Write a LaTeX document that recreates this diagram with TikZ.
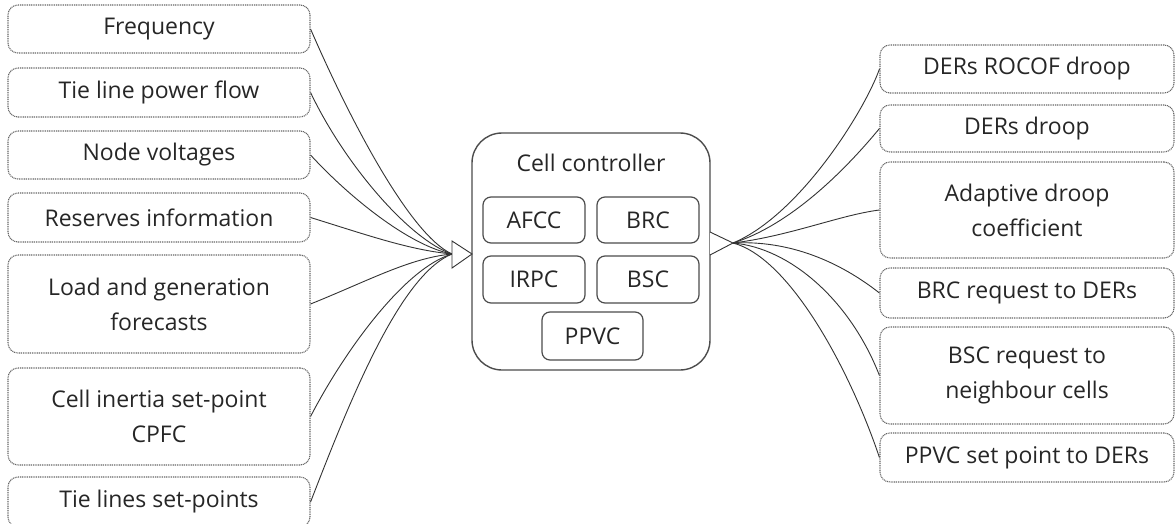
\documentclass[tikz,border=0pt]{standalone}
\usepackage{fontspec}
\setmainfont{Open Sans}
\begin{document}
\begin{tikzpicture}[x=1pt,y=-1pt,
  every node/.style={font=\fontsize{23}{35}\selectfont, text=black!85, align=center, inner sep=0pt},
  infobox/.style={draw=black!60, line width=1.1pt, dash pattern=on 1pt off 0.8pt,
                  rounded corners=10pt, minimum width=#1},
  leftbox/.style={infobox=302pt},
  rightbox/.style={infobox=294pt},
  ctrlbox/.style={draw=black!70, line width=1.4pt, rounded corners=30pt,
                  minimum width=238pt, minimum height=237pt},
  unitbox/.style={draw=black!70, line width=1.2pt, rounded corners=8pt,
                  minimum width=102pt, minimum height=46pt},
  link/.style={draw=black!80, line width=0.9pt},
  tip/.style={draw=black!80, line width=0.9pt, fill=white}
]
\useasboundingbox (0,0) rectangle (1176,524);

% inputs
\node[leftbox, minimum height=48pt] (freq)    at (159,29)    {Frequency};
\node[leftbox, minimum height=49pt] (tiepf)   at (159,92.5)  {Tie line power flow};
\node[leftbox, minimum height=48pt] (nodev)   at (159,155)   {Node voltages};
\node[leftbox, minimum height=49pt] (resv)    at (159,217.5) {Reserves information};
\node[leftbox, minimum height=98pt] (fcst)    at (159,304)   {Load and generation\\forecasts};
\node[leftbox, minimum height=97pt] (inert)   at (159,416.5) {Cell inertia set-point\\CPFC};
\node[leftbox, minimum height=50pt] (tieset)  at (159,502)   {Tie lines set-points};

% controller
\node[ctrlbox] (cell) at (591,251.5) {};
\node (celltitle) at (591,163) {Cell controller};
\node[unitbox] (afcc) at (534,220)   {AFCC};
\node[unitbox] (brc)  at (648,220)   {BRC};
\node[unitbox, minimum height=47pt] (irpc) at (534,279.5) {IRPC};
\node[unitbox, minimum height=47pt] (bsc)  at (648,279.5) {BSC};
\node[unitbox, minimum width=101pt, minimum height=48pt] (ppvc) at (592.5,336) {PPVC};

% outputs
\node[rightbox, minimum height=48pt] (rocof)  at (1027,69)    {DERs ROCOF droop};
\node[rightbox, minimum height=47pt] (droop)  at (1027,128.5) {DERs droop};
\node[rightbox, minimum height=96pt] (adapt)  at (1027,210)   {Adaptive droop\\coefficient};
\node[rightbox, minimum height=50pt] (brcreq) at (1027,293)   {BRC request to DERs};
\node[rightbox, minimum height=97pt] (bscreq) at (1027,375.5) {BSC request to\\neighbour cells};
\node[rightbox, minimum height=49pt] (ppvcsp) at (1027,457.5) {PPVC set point to DERs};

% converging points of the two fans
\coordinate (lin)  at (452,254);
\coordinate (rout) at (733,243);

% input fan
\draw[link] (freq.east)   .. controls (350,120) and (410,235) .. (lin);
\draw[link] (tiepf.east)  .. controls (345,165) and (410,240) .. (lin);
\draw[link] (nodev.east)  .. controls (350,198) and (410,246) .. (lin);
\draw[link] (resv.east)   .. controls (370,236) and (410,250) .. (lin);
\draw[link] (fcst.east)   .. controls (370,280) and (410,258) .. (lin);
\draw[link] (inert.east)  .. controls (345,350) and (405,268) .. (lin);
\draw[link] (tieset.east) .. controls (350,400) and (400,275) .. (lin);
\draw[tip] (452,241) -- (472,254) -- (452,268) -- cycle;

% output fan
\draw[tip] (710,232) -- (733,243) -- (710,255);
\draw[link] (rout) .. controls (800,215) and (865,110) .. (rocof.west);
\draw[link] (rout) .. controls (800,222) and (860,152) .. (droop.west);
\draw[link] (rout) .. controls (790,236) and (840,215) .. (adapt.west);
\draw[link] (rout) .. controls (790,240) and (840,262) .. (brcreq.west);
\draw[link] (rout) .. controls (790,248) and (850,300) .. (bscreq.west);
\draw[link] (rout) .. controls (790,258) and (850,370) .. (ppvcsp.west);
\end{tikzpicture}
\end{document}
